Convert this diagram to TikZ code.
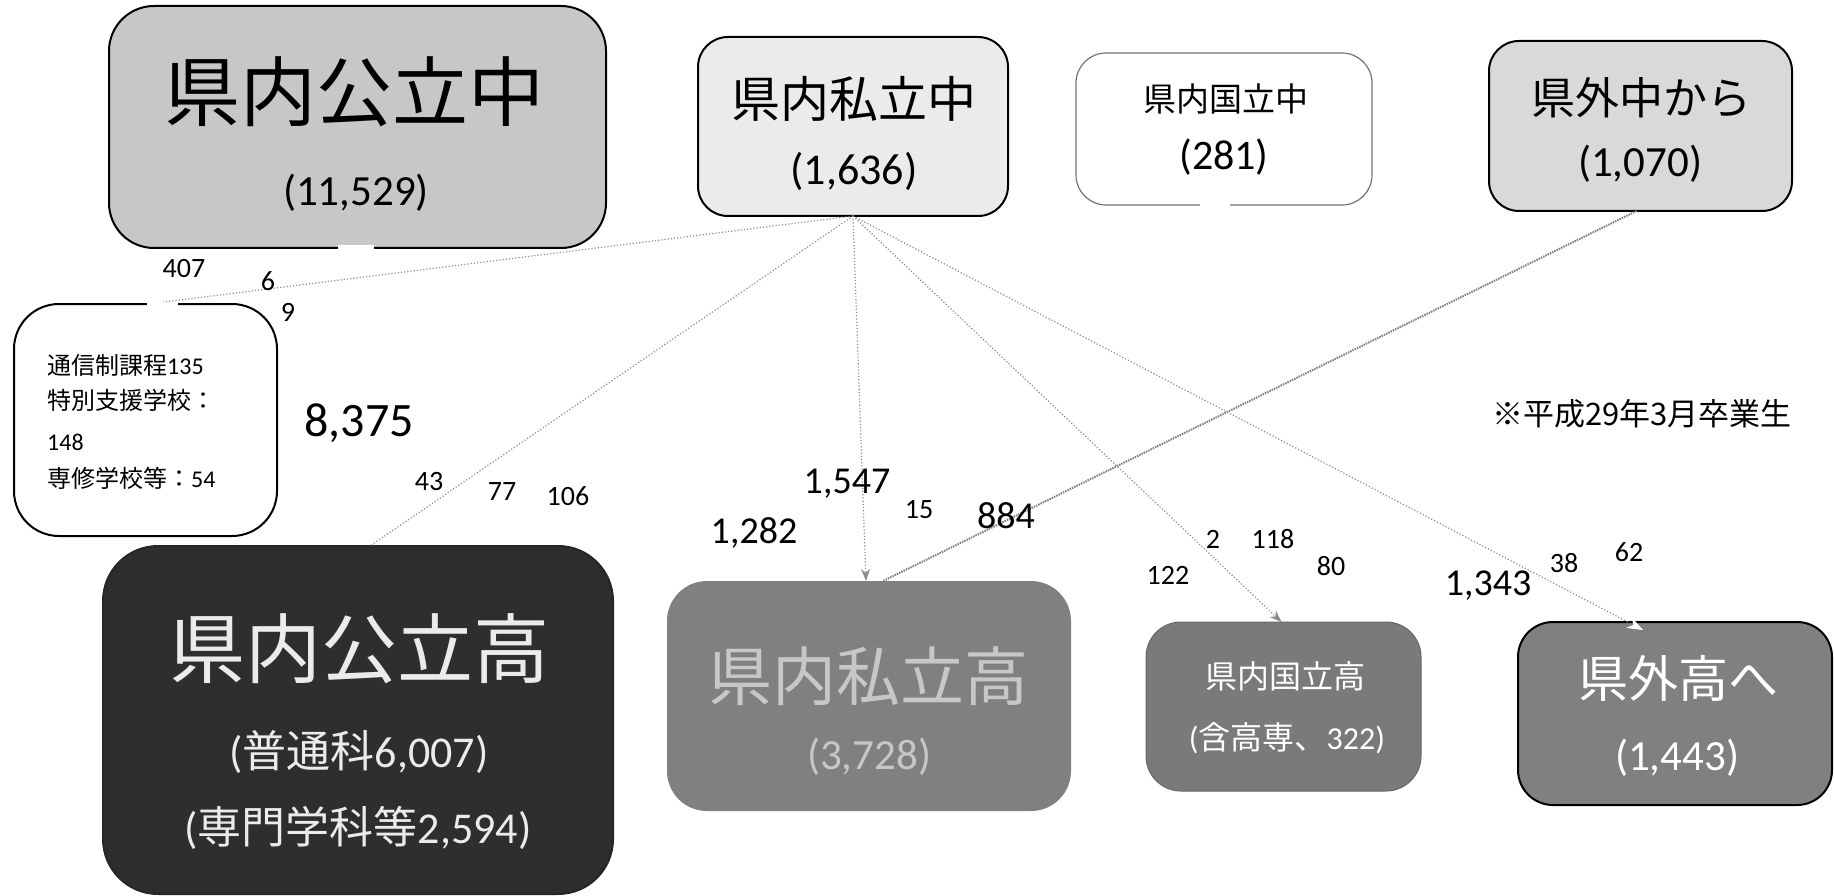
\documentclass[tikz,border=0pt]{standalone}
\usepackage{fontspec}
\setmainfont{Carlito}
\newfontfamily\jp{Noto Sans CJK JP}
\usetikzlibrary{arrows.meta,calc}
\newcommand\fsz[1]{\fontsize{#1}{#1}\selectfont}
\begin{document}
\begin{tikzpicture}[x=1pt,y=-1pt,
  box/.style={draw, line width=2pt, inner sep=0pt, outer sep=0pt},
  txt/.style={inner sep=0pt, anchor=center},
  num/.style={inner sep=0pt, anchor=center, font=\fsz{28}},
  bignum/.style={inner sep=0pt, anchor=center, font=\fsz{38}},
  flow/.style={draw=black!45, line width=1.2pt, dash pattern=on 1.2pt off 2pt},
  flowdense/.style={draw=black!50, line width=2pt, dash pattern=on 1.5pt off 1pt},
  tip/.style={-{Stealth[length=12pt,width=9pt]}},
  whitetip/.style={-{Stealth[length=16pt,width=12pt,color=white]}},
  gap/.style={fill=white}
]
\useasboundingbox (0,0) rectangle (1834,896);

% ---- source boxes
\node[box, fill=black!22, rounded corners=45, minimum width=497, minimum height=242] (kouChu) at (357.5,127) {};
\node[box, fill=black!8, rounded corners=30, minimum width=310, minimum height=179] (shiChu) at (853,126.5) {};
\node[box, draw=black!55, line width=1.2pt, fill=white, rounded corners=30, minimum width=296, minimum height=152] (kokuChu) at (1224,129) {};
\node[box, fill=black!15, rounded corners=30, minimum width=303, minimum height=170] (gaiChu) at (1640.5,126) {};
\node[box, fill=white, rounded corners=45, minimum width=263, minimum height=232] (other) at (145.5,420) {};

% ---- destination boxes
\node[box, draw=black!85, fill=black!82, rounded corners=55, minimum width=510, minimum height=348] (kouKou) at (358,720) {};
\node[box, draw=none, fill=black!50, rounded corners=40, minimum width=404, minimum height=230] (shiKou) at (869,696) {};
\node[box, draw=black!60, line width=1pt, fill=black!52, rounded corners=35, minimum width=275, minimum height=169] (kokuKou) at (1283.5,706.5) {};
\node[box, fill=black!50, rounded corners=35, minimum width=314, minimum height=183] (gaiKou) at (1675,713.5) {};

% ---- gaps in borders
\fill[gap] (338,245) rectangle (374,251);
\fill[gap] (1200,202) rectangle (1230,208);
\fill[gap] (147,301) rectangle (178,307);

% ---- texts in source boxes
\node[txt, font=\jp\fsz{76}] (tKouChu) at (354,92) {県内公立中};
\node[txt, font=\fsz{43}] (nKouChu) at (356,193) {(11,529)};
\node[txt, font=\jp\fsz{49}] (tShiChu) at (854,99) {県内私立中};
\node[txt, font=\fsz{44}] (nShiChu) at (854,171) {(1,636)};
\node[txt, font=\jp\fsz{33}] (tKokuChu) at (1226,99) {県内国立中};
\node[txt, font=\fsz{42}] (nKokuChu) at (1224,157) {(281)};
\node[txt, font=\jp\fsz{44}] (tGaiChu) at (1641,98) {県外中から};
\node[txt, font=\fsz{43}] (nGaiChu) at (1640,164) {(1,070)};

\node[txt, anchor=west, font=\fsz{24}] (o1) at (47,365) {{\jp 通信制課程}135};
\node[txt, anchor=west, font=\fsz{24}] (o2) at (47,400) {{\jp 特別支援学校：}};
\node[txt, anchor=west, font=\fsz{24}] (o3) at (47,442) {148};
\node[txt, anchor=west, font=\fsz{24}] (o4) at (47,478) {{\jp 専修学校等：}54};

% ---- texts in destination boxes
\node[txt, text=black!8, font=\jp\fsz{76}] (tKouKou) at (359,649) {県内公立高};
\node[txt, text=black!8, font=\fsz{44}] (nKouKou1) at (359,752) {({\jp 普通科}6,007)};
\node[txt, text=black!8, font=\fsz{44}] (nKouKou2) at (358,828) {({\jp 専門学科等}2,594)};
\node[txt, text=black!22, font=\jp\fsz{64}] (tShiKou) at (868,676) {県内私立高};
\node[txt, text=black!22, font=\fsz{43}] (nShiKou) at (869,757) {(3,728)};
\node[txt, text=white, font=\jp\fsz{32}] (tKokuKou) at (1285,676) {県内国立高};
\node[txt, text=white, font=\fsz{32}] (nKokuKou) at (1287,738) {({\jp 含高専、}322)};
\node[txt, text=white, font=\jp\fsz{50}] (tGaiKou) at (1678,678) {県外高へ};
\node[txt, text=white, font=\fsz{43}] (nGaiKou) at (1677,758) {(1,443)};

% ---- connectors
\draw[flow] (shiChu.south) -- ($(other.north)+(18,-2)$);
\draw[flow] (shiChu.south) -- ($(kouKou.north)+(12,0)$);
\draw[flow, tip] (shiChu.south) -- ($(shiKou.north)+(-3,0)$);
\draw[flow, tip] (shiChu.south) -- ($(kokuKou.north)+(-2,0)$);
\draw[flow, whitetip] (shiChu.south) -- ($(gaiKou.north)+(-32,8)$);
\draw[flowdense] ($(gaiChu.south)+(-4,0)$) -- ($(shiKou.north)+(14,0)$);

% ---- flow numbers
\node[num] (l407) at (184,269) {407};
\node[num] (l6) at (268,281) {6};
\node[num] (l9) at (288,312) {9};
\node[inner sep=0pt, font=\fsz{48}] (l8375) at (359,423) {8,375};
\node[num] (l43) at (429,482) {43};
\node[num] (l77) at (502,492) {77};
\node[num] (l106) at (568,496) {106};
\node[bignum] (l1547) at (847,484) {1,547};
\node[bignum] (l1282) at (754,533) {1,282};
\node[num] (l15) at (919,510) {15};
\node[bignum] (l884) at (1006,516) {884};
\node[num] (l2) at (1213,539) {2};
\node[num] (l118) at (1273,539) {118};
\node[num] (l122) at (1168,575) {122};
\node[num] (l80) at (1331,566) {80};
\node[bignum] (l1343) at (1488,586) {1,343};
\node[num] (l38) at (1564,563) {38};
\node[num] (l62) at (1629,552) {62};

\node[txt, font=\jp\fsz{31}] (note) at (1642,414) {※平成29年3月卒業生};
\end{tikzpicture}
\end{document}
